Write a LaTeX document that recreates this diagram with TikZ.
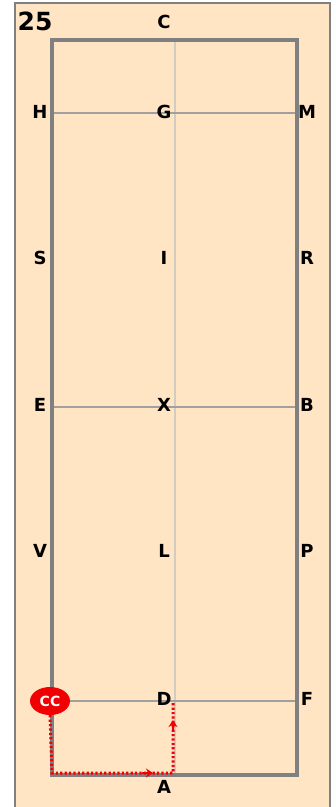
\documentclass[tikz,border=0pt]{standalone}
\usepackage{fontspec}
\setmainfont{DejaVu Sans}
\usetikzlibrary{arrows.meta,shapes.geometric}
\definecolor{bgpeach}{RGB}{255,229,196}
\definecolor{wallgray}{RGB}{128,128,128}
\definecolor{linegray}{RGB}{160,160,160}
\definecolor{centergray}{RGB}{210,203,192}
\definecolor{pathred}{RGB}{240,0,0}
\tikzset{
  lett/.style={font=\bfseries\fontsize{18}{18}\selectfont, inner sep=0pt},
  wall/.style={draw=wallgray, line width=3.4pt},
  quarter/.style={draw=linegray, line width=2pt},
  centre/.style={draw=centergray, line width=1.8pt},
  route/.style={draw=pathred, line width=3pt, dash pattern=on 2.2pt off 2.2pt},
  arr/.style={-{Stealth[length=7pt,width=9pt]}, draw=pathred, line width=1.6pt},
}
\begin{document}
\begin{tikzpicture}[x=1pt,y=-1pt]
\useasboundingbox (0,0) rectangle (336,807);
\fill[white] (0,0) rectangle (336,807);
\filldraw[fill=bgpeach, draw=wallgray, line width=2pt] (15,3) rectangle (330,815);
% centre line
\draw[centre] (175,40) -- (175,775);
% quarter lines
\draw[quarter] (52,113) -- (297,113);
\draw[quarter] (52,407) -- (297,407);
\draw[quarter] (52,701) -- (297,701);
% arena wall
\draw[wall] (52,40) rectangle (297,775);
% letters
\node[lett, font=\bfseries\fontsize{25}{25}\selectfont] (n25) at (35,21) {25};
\node[lett] (C) at (164,22) {C};
\node[lett] (H) at (40,112) {H};
\node[lett] (G) at (164,112) {G};
\node[lett] (M) at (307,112) {M};
\node[lett] (S) at (40,258) {S};
\node[lett] (I) at (164,258) {I};
\node[lett] (R) at (307,258) {R};
\node[lett] (E) at (40,405) {E};
\node[lett] (X) at (164,405) {X};
\node[lett] (B) at (307,405) {B};
\node[lett] (V) at (40,551) {V};
\node[lett] (L) at (164,551) {L};
\node[lett] (P) at (307,551) {P};
\node[lett] (D) at (164,699) {D};
\node[lett] (F) at (307,699) {F};
\node[lett] (A) at (164,787) {A};
% route
\coordinate (c1) at (52,773);
\coordinate (c2) at (173,773);
\coordinate (c3) at (173,703);
\node[ellipse, fill=pathred, minimum width=40pt, minimum height=28pt, inner sep=0pt, text=white, font=\bfseries\fontsize{14}{14}\selectfont] (CC) at (50,701) {CC};
\draw[route] (CC.south) -- (c1) -- (c2) -- (c3);
\draw[arr] (142,773) -- (153,773);
\draw[arr] (173,731) -- (173,720);
\end{tikzpicture}
\end{document}
